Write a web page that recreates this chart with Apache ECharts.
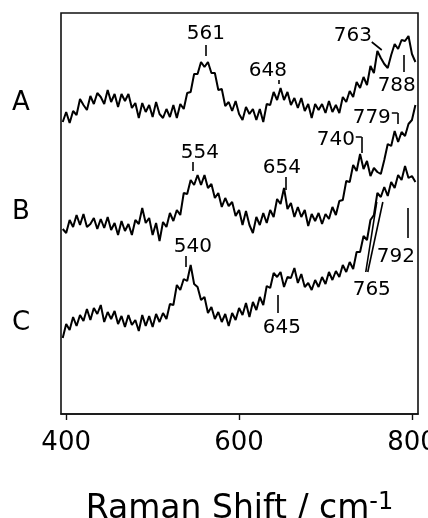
<!DOCTYPE html>
<html><head><meta charset="utf-8">
<script src="https://cdn.jsdelivr.net/npm/echarts@6/dist/echarts.min.js"></script>
<style>html,body{margin:0;padding:0;background:#fff}#c{width:428px;height:518px}</style>
</head><body><div id="c"></div>
<script>
const shift = [396,400,404,408,412,416,420,424,428,432,436,440,444,448,452,456,460,464,468,472,476,480,484,488,492,496,500,504,508,512,516,520,524,528,532,536,540,544,548,552,556,560,564,568,572,576,580,584,588,592,596,600,604,608,612,616,620,624,628,632,636,640,644,648,652,656,660,664,668,672,676,680,684,688,692,696,700,704,708,712,716,720,724,728,732,736,740,744,748,752,756,760,764,768,772,776,780,784,788,792,796,800,804];
const spectrumA = [292,302,291,303,299,315,309,304,318,310,321,317,310,324,312,320,307,320,313,320,306,311,296,311,302,309,297,312,300,296,305,297,309,296,310,305,321,322,340,340,352,347,352,341,341,324,325,308,312,303,313,300,294,307,300,305,294,305,292,310,309,322,314,326,314,322,309,316,306,316,303,310,296,310,304,310,301,313,302,309,301,317,312,323,317,332,326,337,329,348,341,363,356,350,346,359,370,365,374,373,378,360,352];
const spectrumB = [185,181,194,187,199,189,200,187,190,196,185,195,186,197,184,191,179,193,183,190,179,194,190,206,191,196,179,191,173,192,187,201,193,204,199,221,220,234,229,239,229,239,226,230,216,221,207,216,208,212,198,204,189,203,189,181,197,189,201,191,204,197,215,210,226,205,211,197,207,197,204,188,200,193,201,190,200,195,207,199,213,214,233,232,249,243,260,245,253,238,246,242,240,254,270,268,283,272,282,278,290,294,309];
const spectrumC = [76,90,84,97,88,99,93,105,94,106,100,109,92,102,95,103,90,98,87,99,89,94,83,99,88,98,87,100,92,101,95,110,109,129,124,135,133,149,130,127,114,117,101,107,95,102,92,100,88,101,94,106,99,111,97,112,104,117,109,128,126,141,137,142,127,137,136,146,131,140,127,131,124,134,127,137,130,142,134,143,137,149,142,152,145,162,162,178,174,194,199,221,217,227,218,232,226,239,234,248,236,238,232];
const curveNames = ['A','B','C'];
const curveNameY = [104,213,324];
const peakLabels = ['561','648','763','788','554','654','740','779','540','645','765','792'];
const peakLabelX = [561.6,633.3,731.6,782.4,554.7,649.5,711.9,753.5,546.6,649.5,753.5,781.3];
const peakLabelY = [380,343,378,328,261,246,274,296,167,86,124,157];
const leaders = [
  [[561.6,369],[561.6,358]],
  [[646,334],[646,330]],
  [[753.5,372],[765.1,364]],
  [[790.5,359],[790.5,342]],
  [[546.6,252],[546.6,243]],
  [[654.1,237],[654.1,224]],
  [[735.0,277],[741.9,277]],[[741.9,277],[741.9,261]],
  [[776.7,301],[783.6,301]],[[783.6,301],[783.6,290]],
  [[538.5,158],[538.5,147]],
  [[644.9,119],[644.9,101]],
  [[746.6,142],[759.3,212]],
  [[748.9,142],[766.3,212]],
  [[795.2,206],[795.2,176]]
];
const tickValues = [400,600,800];

const font = 'DejaVu Sans';
const zip = arr => shift.map((x,i)=>[x,arr[i]]);
const lineSeries = (name, arr) => ({
  name, type:'line', data: zip(arr), showSymbol:false, symbol:'none',
  lineStyle:{color:'#000', width:2}, silent:true, z:3
});
const chart = echarts.init(document.getElementById('c'), null, {renderer:'canvas'});
chart.setOption({
  animation:false,
  backgroundColor:'#fff',
  grid:{left:61, right:10, top:13, bottom:104, containLabel:false, outerBoundsMode:'none',
        show:true, borderColor:'#111', borderWidth:1.6, backgroundColor:'transparent'},
  xAxis:{
    type:'value', min:394, max:807,
    axisLine:{show:true, lineStyle:{color:'#111', width:1.6}},
    axisTick:{show:true, inside:false, length:6, customValues:tickValues, lineStyle:{color:'#111', width:1.4}},
    axisLabel:{customValues:tickValues, color:'#000', fontFamily:font, fontSize:26, margin:16},
    splitLine:{show:false},
    name:'{a|Raman Shift / cm}{s|-1}', nameLocation:'middle', nameGap:77,
    nameTextStyle:{color:'#000', fontFamily:font, fontSize:33,
      rich:{a:{fontFamily:font, fontSize:33, color:'#000'}, s:{fontFamily:font, fontSize:24, color:'#000', padding:[0,0,12,0]}}}
  },
  yAxis:{type:'value', min:0, max:401, show:false},
  graphic: curveNames.map((n,i)=>({type:'text', left:12, top:curveNameY[i]-14,
     style:{text:n, font:'26px "DejaVu Sans"', fill:'#000'}})),
  series:[
    lineSeries('A', spectrumA),
    lineSeries('B', spectrumB),
    lineSeries('C', spectrumC),
    {type:'scatter', symbolSize:0, silent:true, z:4, itemStyle:{opacity:1},
     data: peakLabels.map((t,i)=>({value:[peakLabelX[i], peakLabelY[i]], name:t})),
     label:{show:true, position:'inside', formatter:p=>p.name, color:'#000', opacity:1, fontFamily:font, fontSize:20}},
    {type:'lines', coordinateSystem:'cartesian2d', silent:true, z:4,
     data: leaders.map(s=>({coords:s})),
     lineStyle:{color:'#000', width:1.6, opacity:1}}
  ]
});
</script></body></html>
